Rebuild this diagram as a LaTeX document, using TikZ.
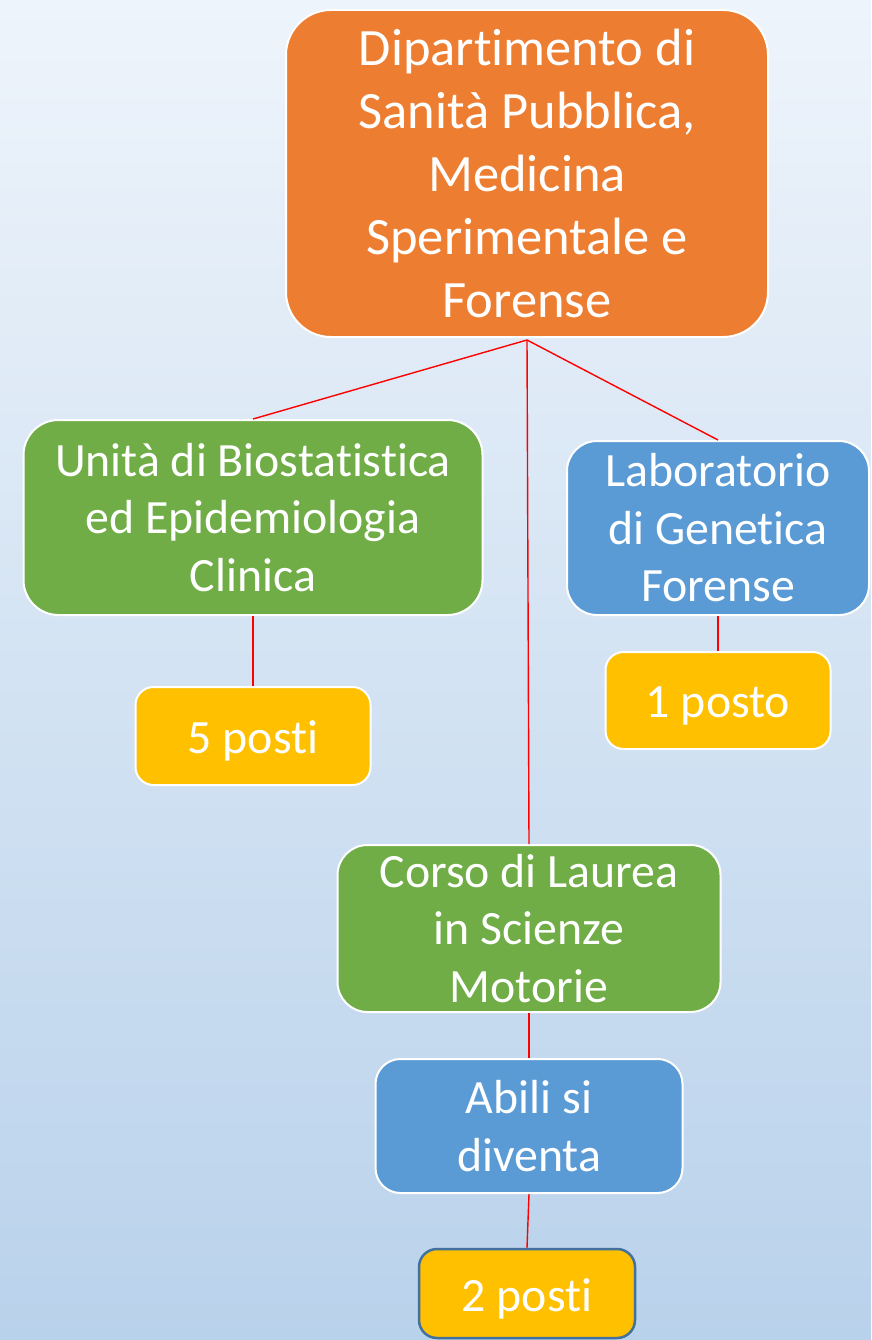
\documentclass[tikz,border=0pt]{standalone}
\usepackage{fontspec}
\setmainfont[RawFeature={-liga;-clig;-calt;-dlig;-rlig}]{Carlito}
\definecolor{bgtop}{HTML}{EEF4FB}
\definecolor{bgbot}{HTML}{B9D2EB}
\definecolor{orangebox}{HTML}{ED7D31}
\definecolor{greenbox}{HTML}{70AD47}
\definecolor{bluebox}{HTML}{5B9BD5}
\definecolor{yellowbox}{HTML}{FFC000}
\definecolor{darkedge}{HTML}{41719C}
\definecolor{linkred}{HTML}{FF0000}
\newcommand\lowered[1]{\raisebox{-5pt}[\height][\depth]{#1}}
\newcommand\tiSep{t\kern0pt i}
\begin{document}
\begin{tikzpicture}[x=1pt,y=-1pt,
  box/.style={draw=white,line width=2pt,text=white,align=center,inner sep=0pt},
  bigtext/.style={font=\fontsize{52.5}{63}\selectfont},
  midtext/.style={font=\fontsize{47.8}{57.5}\selectfont},
  link/.style={draw=linkred,line width=1.4pt}]
\useasboundingbox (0,0) rectangle (871,1340);
\shade[top color=bgtop,bottom color=bgbot] (0,0) rectangle (871,1340);
\node[box,bigtext,fill=orangebox,rounded corners=45pt,minimum width=482pt,minimum height=327pt] (dip) at (527,173.5)
  {Dipar\tiSep mento di\\Sanità Pubblica,\\Medicina\\Sperimentale e\\Forense};
\node[box,midtext,fill=greenbox,rounded corners=35pt,minimum width=459pt,minimum height=195pt] (bio) at (253,517.5)
  {Unità di Biosta\tiSep s\tiSep ca\\ed Epidemiologia\\Clinica};
\node[box,midtext,fill=bluebox,rounded corners=30pt,minimum width=302pt,minimum height=174pt] (lab) at (718,528)
  {Laboratorio\\di Gene\tiSep ca\\Forense};
\node[box,midtext,fill=yellowbox,rounded corners=18pt,minimum width=235pt,minimum height=98pt] (p5) at (253,736)
  {\lowered{5 pos\tiSep}};
\node[box,midtext,fill=yellowbox,rounded corners=18pt,minimum width=225pt,minimum height=97pt] (p1) at (718,700.5)
  {\lowered{1 posto}};
\node[box,midtext,fill=greenbox,rounded corners=30pt,minimum width=383pt,minimum height=167pt] (cor) at (529,928.5)
  {Corso di Laurea\\in Scienze\\Motorie};
\node[box,midtext,fill=bluebox,rounded corners=25pt,minimum width=307pt,minimum height=134pt] (abi) at (529,1126)
  {Abili si\\diventa};
\node[box,midtext,draw=darkedge,line width=2.5pt,fill=yellowbox,rounded corners=18pt,minimum width=216pt,minimum height=89pt] (p2) at (527,1293.5)
  {\lowered{2 pos\tiSep}};
\coordinate (hub) at (527,340);
\draw[link] (hub) -- (bio.north);
\draw[link] (hub) -- (cor.north);
\draw[link] (hub) -- (lab.north);
\draw[link] (bio.south) -- (p5.north);
\draw[link] (lab.south) -- (p1.north);
\draw[link] (cor.south) -- (abi.north);
\draw[link] (abi.south) -- (p2.north);
\end{tikzpicture}
\end{document}
